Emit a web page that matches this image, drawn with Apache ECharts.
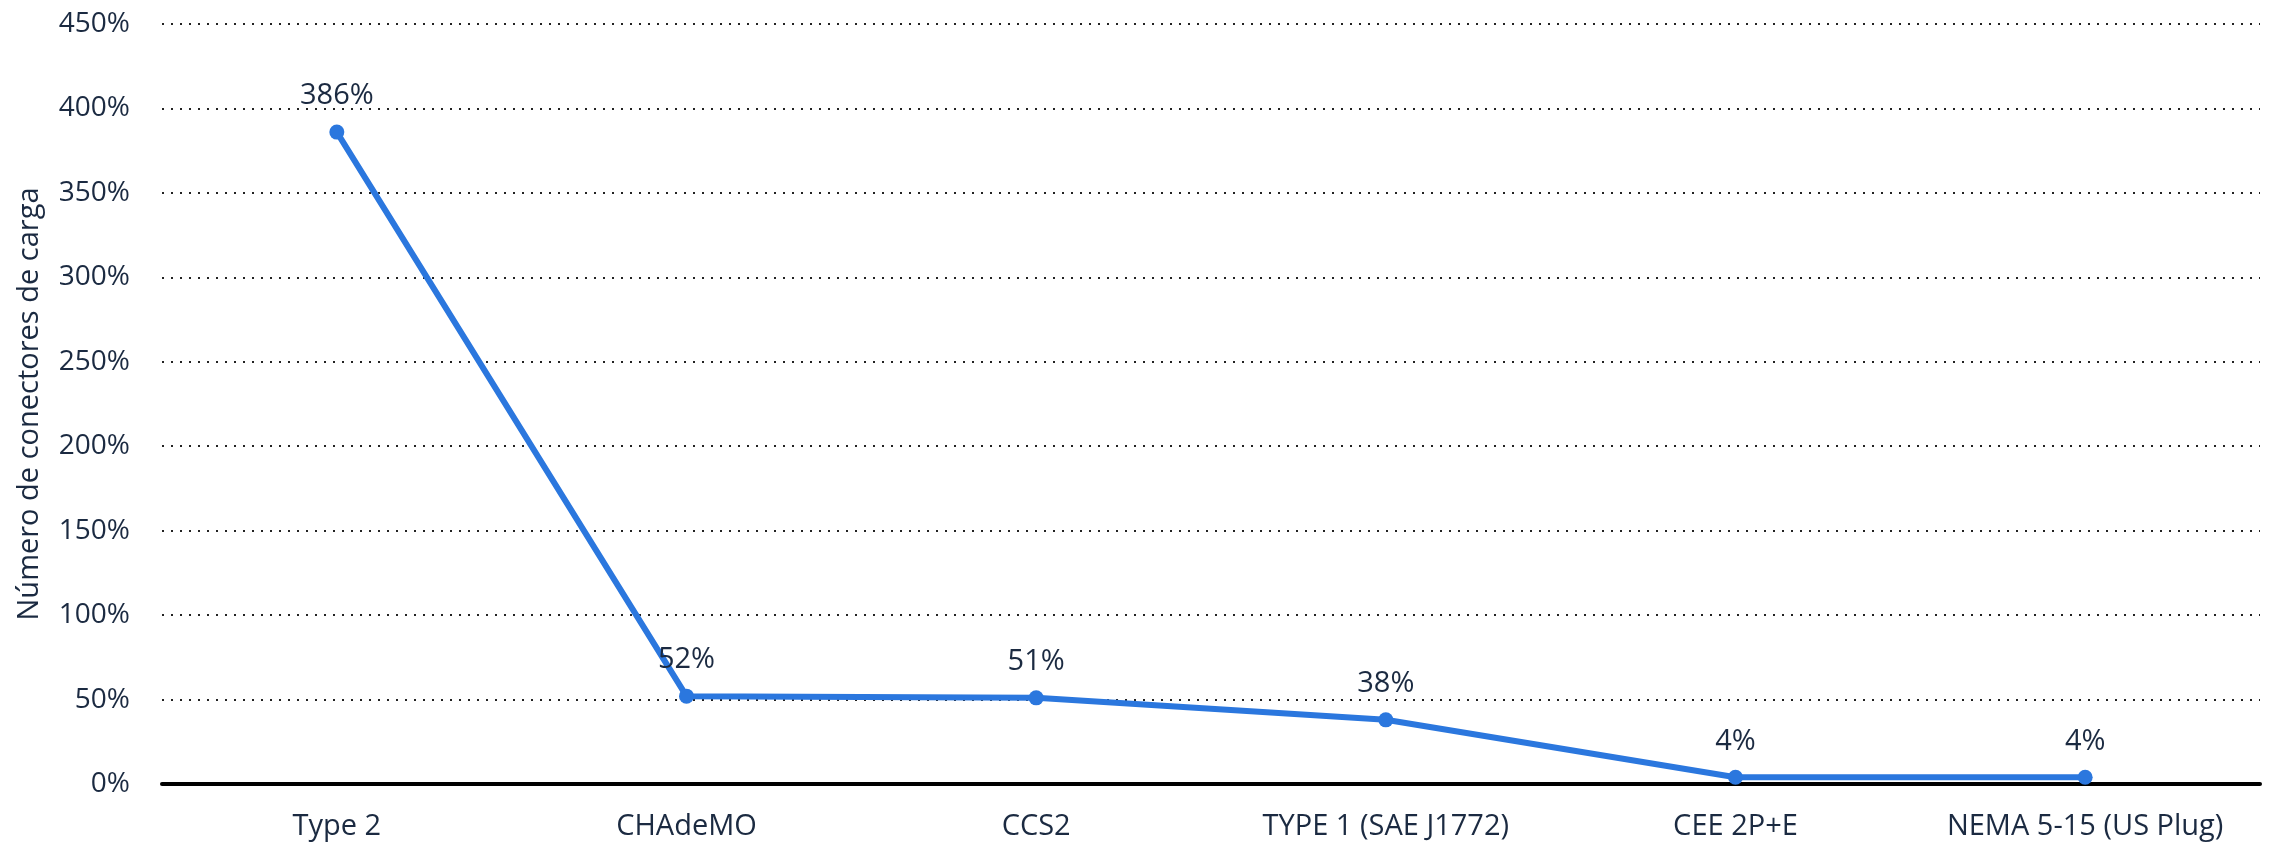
<!DOCTYPE html>
<html>
<head>
<meta charset="utf-8">
<script src="https://cdn.jsdelivr.net/npm/echarts@6/dist/echarts.min.js"></script>
<style>
  html, body { margin: 0; padding: 0; background: #ffffff; }
  #chart { width: 2275px; height: 846px; }
</style>
</head>
<body>
<div id="chart"></div>
<script>
// Connector types and their share
const categories = ['Type 2', 'CHAdeMO', 'CCS2', 'TYPE 1 (SAE J1772)', 'CEE 2P+E', 'NEMA 5-15 (US Plug)'];
const values = [386, 52, 51, 38, 4, 4];
const axisName = 'Número de conectores de carga';

const textColor = '#1b2a41';
const fontFamily = '"Open Sans", "Noto Sans", sans-serif';

const chart = echarts.init(document.getElementById('chart'), null, { renderer: 'canvas' });

chart.setOption({
  animation: false,
  backgroundColor: '#ffffff',
  grid: { left: 162, right: 15, top: 24, bottom: 62 },
  xAxis: {
    type: 'category',
    data: categories,
    boundaryGap: true,
    axisLine: { show: true, lineStyle: { color: '#000000', width: 4 } },
    axisTick: { show: false },
    axisLabel: { interval: 0, color: textColor, fontSize: 29, fontFamily: fontFamily, margin: 28 },
    splitLine: { show: false }
  },
  yAxis: {
    type: 'value',
    min: 0,
    max: 450,
    interval: 50,
    name: axisName,
    nameLocation: 'middle',
    nameGap: 118,
    nameTextStyle: { color: textColor, fontSize: 29, fontFamily: fontFamily },
    axisLine: { show: false },
    axisTick: { show: false },
    axisLabel: {
      color: textColor, fontSize: 28, fontFamily: fontFamily, margin: 32,
      formatter: v => v + '%'
    },
    splitLine: { show: true, lineStyle: { color: '#222222', width: 2, type: [2, 7] } }
  },
  series: [{
    type: 'line',
    data: values,
    symbol: 'circle',
    symbolSize: 15,
    itemStyle: { color: '#2b77de' },
    lineStyle: { color: '#2b77de', width: 6 },
    label: {
      show: true,
      position: 'top',
      distance: 14,
      color: textColor,
      fontSize: 29,
      fontFamily: fontFamily,
      formatter: p => p.value + '%'
    },
    z: 3
  }]
});
</script>
</body>
</html>
